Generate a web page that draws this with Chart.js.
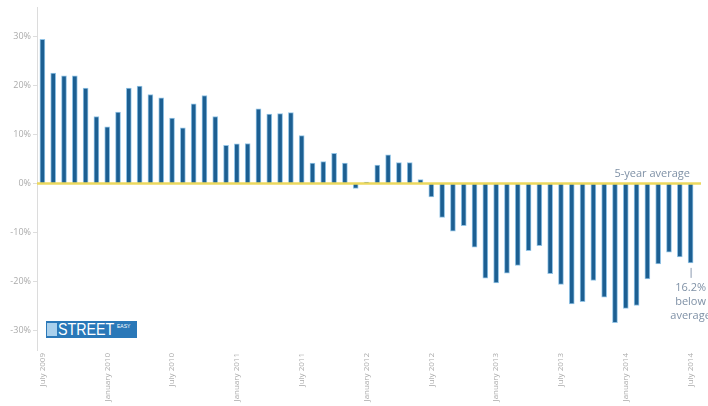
<!DOCTYPE html>
<html>
<head>
<meta charset="utf-8">
<script src="https://cdn.jsdelivr.net/npm/chart.js@4.4.1/dist/chart.umd.min.js"></script>
<style>
  html, body { margin: 0; padding: 0; background: #fff; }
  #wrap { position: relative; width: 708px; height: 406px; }
  #logo {
    position: absolute; left: 46px; top: 321px; width: 91px; height: 17px;
    background: #2a78b8; font-family: "Liberation Sans", Arial, sans-serif;
    color: #fff; overflow: hidden;
  }
  #logo .icon { position: absolute; left: 1px; top: 2px; width: 10px; height: 13px; background: #a9d0ec; }
  #logo .street {
    position: absolute; left: 12px; top: 0px; font-size: 17px; line-height: 17px;
    transform: scaleX(0.84); transform-origin: left center; white-space: nowrap;
  }
  #logo .easy { position: absolute; left: 71px; top: 2px; font-size: 5px; line-height: 6px; }
</style>
</head>
<body>
<div id="wrap">
  <canvas id="chart" width="708" height="406"></canvas>
  <div id="logo"><span class="icon"></span><span class="street">STREET</span><span class="easy">EASY</span></div>
</div>
<script>
// year-over-year change vs 5-year average, monthly July 2009 .. July 2014
const monthNames = ['January', 'February', 'March', 'April', 'May', 'June',
  'July', 'August', 'September', 'October', 'November', 'December'];
const years = [2009, 2010, 2011, 2012, 2013, 2014];

const diffFromAverage = [
  29.5, 22.6, 22.0, 22.0, 19.5, 13.7,
  11.6, 14.6, 19.5, 19.9, 18.2, 17.5,
  13.4, 11.4, 16.3, 18.0, 13.7, 7.8,
  8.1, 8.2, 15.3, 14.2, 14.3, 14.5,
  9.8, 4.2, 4.5, 6.2, 4.2, -1.0,
  0.3, 3.8, 5.9, 4.3, 4.3, 0.8,
  -2.7, -6.9, -9.7, -8.6, -13.0, -19.3,
  -20.3, -18.3, -16.7, -13.7, -12.7, -18.4,
  -20.6, -24.6, -24.1, -19.8, -23.2, -28.4,
  -25.5, -24.9, -19.5, -16.4, -14.0, -15.0,
  -16.2
];

const yTicks = [-30, -20, -10, 0, 10, 20, 30];
const averageValue = 0;
const averageLabel = '5-year average';
const lastNote = ['16.2%', 'below', 'average'];

// build month categories
const months = [];
years.forEach(y => {
  monthNames.forEach((m, i) => {
    if ((y === 2009 && i < 6) || (y === 2014 && i > 6)) return;
    months.push(`${m} ${y}`);
  });
});

const averageLine = {
  id: 'averageLine',
  afterDatasetsDraw(chart) {
    const { ctx, scales } = chart;
    const yPix = scales.y.getPixelForValue(averageValue);
    ctx.save();
    ctx.strokeStyle = '#ecd85e';
    ctx.lineWidth = 2.5;
    ctx.beginPath();
    ctx.moveTo(chart.chartArea.left, yPix);
    ctx.lineTo(701, yPix);
    ctx.stroke();

    ctx.fillStyle = '#7f91a6';
    ctx.font = '11px "Open Sans", sans-serif';
    ctx.textAlign = 'right';
    ctx.textBaseline = 'alphabetic';
    ctx.fillText(averageLabel, 690, yPix - 7);

    // note below the last bar
    const meta = chart.getDatasetMeta(0);
    const last = meta.data[meta.data.length - 1];
    const bottom = scales.y.getPixelForValue(diffFromAverage[diffFromAverage.length - 1]);
    ctx.strokeStyle = '#8b9bb0';
    ctx.lineWidth = 1;
    ctx.beginPath();
    ctx.moveTo(last.x + 0.5, bottom + 5);
    ctx.lineTo(last.x + 0.5, bottom + 15);
    ctx.stroke();
    ctx.textAlign = 'center';
    ctx.textBaseline = 'middle';
    lastNote.forEach((t, i) => {
      ctx.fillText(t, last.x, bottom + 25 + i * 14);
    });
    ctx.restore();
  }
};

const ctx = document.getElementById('chart').getContext('2d');
new Chart(ctx, {
  type: 'bar',
  data: {
    labels: months,
    datasets: [{
      data: diffFromAverage,
      backgroundColor: '#1c5f92',
      borderColor: 'rgba(110, 175, 220, 0.75)',
      borderWidth: 1,
      barThickness: 5
    }]
  },
  options: {
    responsive: false,
    animation: false,
    layout: { padding: { top: 5, right: 12, left: 0, bottom: 0 } },
    plugins: {
      legend: { display: false },
      tooltip: { enabled: false }
    },
    scales: {
      x: {
        offset: true,
        grid: { display: false, drawTicks: false },
        border: { display: false },
        afterFit: scale => { scale.height = 56; },
        ticks: {
          autoSkip: false,
          minRotation: 90,
          maxRotation: 90,
          padding: 3,
          color: '#ababab',
          font: { family: '"Open Sans", sans-serif', size: 8 },
          callback: function(val, index) {
            return index % 6 === 0 ? this.getLabelForValue(val) : null;
          }
        }
      },
      y: {
        min: -34,
        max: 36,
        afterBuildTicks: scale => { scale.ticks = yTicks.map(v => ({ value: v })); },
        afterFit: scale => { scale.width = 37; },
        grid: { display: true, drawOnChartArea: false, drawTicks: true, tickLength: 4, color: '#dddddd' },
        border: { display: true, color: '#dcdcdc', width: 1 },
        ticks: {
          padding: 2,
          color: '#ababab',
          font: { family: '"Open Sans", sans-serif', size: 9 },
          callback: v => `${v}%`
        }
      }
    }
  },
  plugins: [averageLine]
});
</script>
</body>
</html>
